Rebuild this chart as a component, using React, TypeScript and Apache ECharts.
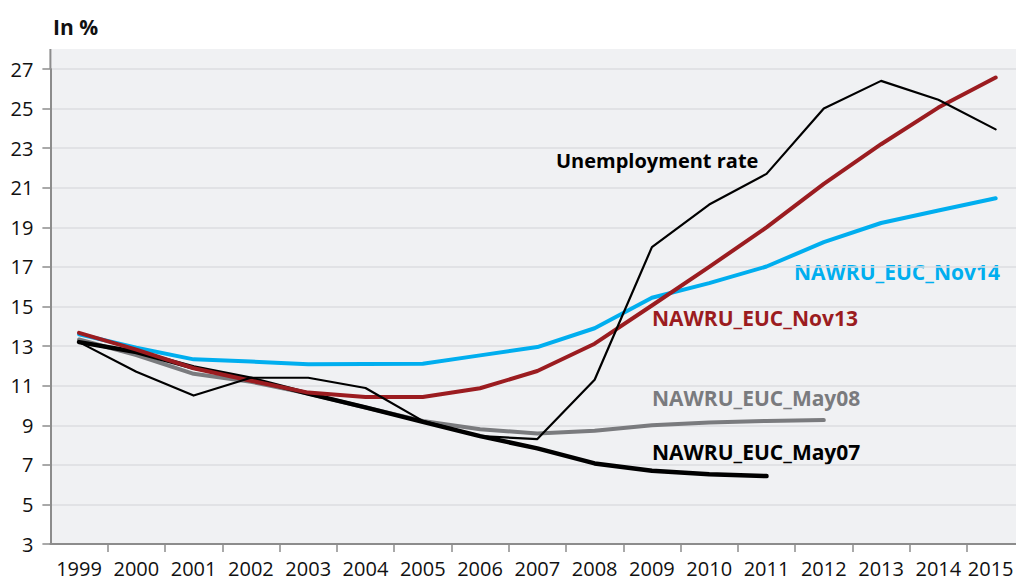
import React, { useEffect, useRef } from "react";
import * as echarts from "echarts";

const years = ["1999", "2000", "2001", "2002", "2003", "2004", "2005", "2006", "2007", "2008", "2009", "2010", "2011", "2012", "2013", "2014", "2015"];
const unemploymentRate = [13.2, 11.7, 10.5, 11.4, 11.4, 10.88, 9.22, 8.45, 8.3, 11.3, 18.0, 20.15, 21.7, 25.0, 26.4, 25.45, 23.95];
const nawruNov13 = [13.67, 12.82, 11.88, 11.25, 10.65, 10.43, 10.43, 10.87, 11.74, 13.12, 15.05, 17.0, 19.0, 21.2, 23.2, 25.05, 26.57];
const nawruNov14 = [13.6, 12.92, 12.33, 12.22, 12.08, 12.09, 12.11, 12.53, 12.95, 13.9, 15.44, 16.18, 17.02, 18.25, 19.22, 19.85, 20.47];
const nawruMay08 = [13.33, 12.55, 11.6, 11.2, 10.6, 9.9, 9.22, 8.8, 8.58, 8.72, 9.0, 9.14, 9.22, 9.26, null, null, null];
const nawruMay07 = [13.2, 12.7, 11.92, 11.35, 10.6, 9.9, 9.17, 8.45, 7.83, 7.07, 6.7, 6.52, 6.43, null, null, null, null];

const yMin = 3;
const yMax = 27;
const yInterval = 2;

const FONT = "'Open Sans', 'Noto Sans', sans-serif";
const CYAN = "#00aeef";
const RED = "#9b1c20";
const GRAY = "#7a7b7e";
const BLACK = "#000000";
const AXIS = "#8c8c8c";

const CHART_W = 1025;
const CHART_H = 581;

export default function App() {
  const ref = useRef<HTMLDivElement>(null);

  useEffect(() => {
    if (!ref.current) return;
    const chart = echarts.init(ref.current, null, { renderer: "svg" });
    const gridLeft = 50.4;
    const gridRight = 0.7;
    const gridTop = 69;
    const gridBottom = 37;

    const lineSeries = (name: string, data: (number | null)[], color: string, width: number, z: number) => ({
      name,
      type: "line",
      data,
      z,
      showSymbol: false,
      symbol: "none",
      connectNulls: false,
      lineStyle: { color, width, cap: "round", join: "round" },
      emphasis: { disabled: true },
    });

    chart.setOption({
      animation: false,
      textStyle: { fontFamily: FONT },
      grid: {
        left: gridLeft,
        right: gridRight,
        top: gridTop,
        bottom: gridBottom,
        show: true,
        backgroundColor: "#f0f1f3",
        borderWidth: 0,
      },
      xAxis: {
        type: "category",
        data: years,
        boundaryGap: true,
        axisLine: { show: true, lineStyle: { color: AXIS, width: 2 } },
        axisTick: {
          show: true,
          length: 8,
          lineStyle: { color: AXIS, width: 1.5 },
          interval: (i: number) => i !== 0,
        },
        axisLabel: {
          interval: 0,
          fontSize: 20,
          color: "#111",
          margin: 14,
          fontFamily: FONT,
          formatter: (v: string, i: number) => (i === years.length - 1 ? `{last|${v}}` : v),
          rich: {
            last: { fontSize: 20, color: "#111", fontFamily: FONT, padding: [0, 10, 0, 0] },
          },
        },
        splitLine: { show: false },
      },
      yAxis: {
        type: "value",
        min: yMin,
        max: yMax,
        interval: yInterval,
        axisLine: { show: true, lineStyle: { color: AXIS, width: 2 } },
        axisTick: { show: true, length: 8, lineStyle: { color: AXIS, width: 1.5 } },
        axisLabel: { fontSize: 20, color: "#111", margin: 17, fontFamily: FONT, padding: [0, 0, 8, 0] },
        splitLine: { show: true, lineStyle: { color: "#dcdde0", width: 1.5 } },
      },
      graphic: [
        {
          type: "rect",
          z: -10,
          shape: { x: gridLeft, y: 49, width: CHART_W - gridLeft, height: gridTop - 49 },
          style: { fill: "#f0f1f3" },
          silent: true,
        },
        {
          type: "line",
          shape: { x1: gridLeft, y1: 49, x2: gridLeft, y2: gridTop },
          style: { stroke: AXIS, lineWidth: 2 },
          silent: true,
        },
        {
          type: "text",
          x: 53,
          y: 26.7,
          style: { text: "In %", fontSize: 21, fontWeight: "bold", fill: "#111", fontFamily: FONT, verticalAlign: "middle" },
        },
        {
          type: "text",
          x: 556,
          y: 160,
          style: { text: "Unemployment rate", fontSize: 20, fontWeight: "bold", fill: BLACK, fontFamily: FONT, verticalAlign: "middle" },
        },
        {
          type: "text",
          x: 794,
          y: 272,
          style: { text: "NAWRU_EUC_Nov14", fontSize: 21, fontWeight: "bold", fill: CYAN, fontFamily: FONT, verticalAlign: "middle" },
        },
        {
          type: "text",
          x: 652,
          y: 318,
          style: { text: "NAWRU_EUC_Nov13", fontSize: 21, fontWeight: "bold", fill: RED, fontFamily: FONT, verticalAlign: "middle" },
        },
        {
          type: "text",
          x: 652,
          y: 397.5,
          style: { text: "NAWRU_EUC_May08", fontSize: 21, fontWeight: "bold", fill: GRAY, fontFamily: FONT, verticalAlign: "middle" },
        },
        {
          type: "text",
          x: 652,
          y: 451.5,
          style: { text: "NAWRU_EUC_May07", fontSize: 21, fontWeight: "bold", fill: BLACK, fontFamily: FONT, verticalAlign: "middle" },
        },
      ],
      series: [
        lineSeries("NAWRU_EUC_Nov14", nawruNov14, CYAN, 4, 2),
        lineSeries("NAWRU_EUC_May08", nawruMay08, GRAY, 4, 3),
        lineSeries("NAWRU_EUC_May07", nawruMay07, BLACK, 4.5, 4),
        lineSeries("NAWRU_EUC_Nov13", nawruNov13, RED, 4, 5),
        lineSeries("Unemployment rate", unemploymentRate, BLACK, 2.2, 6),
      ],
    });

    return () => chart.dispose();
  }, []);

  return (
    <div
      style={{ position: "absolute", left: 0, top: 0, width: 1016, height: 581, overflow: "hidden", background: "#ffffff" }}
    >
      <div ref={ref} style={{ width: CHART_W, height: CHART_H }} />
    </div>
  );
}
